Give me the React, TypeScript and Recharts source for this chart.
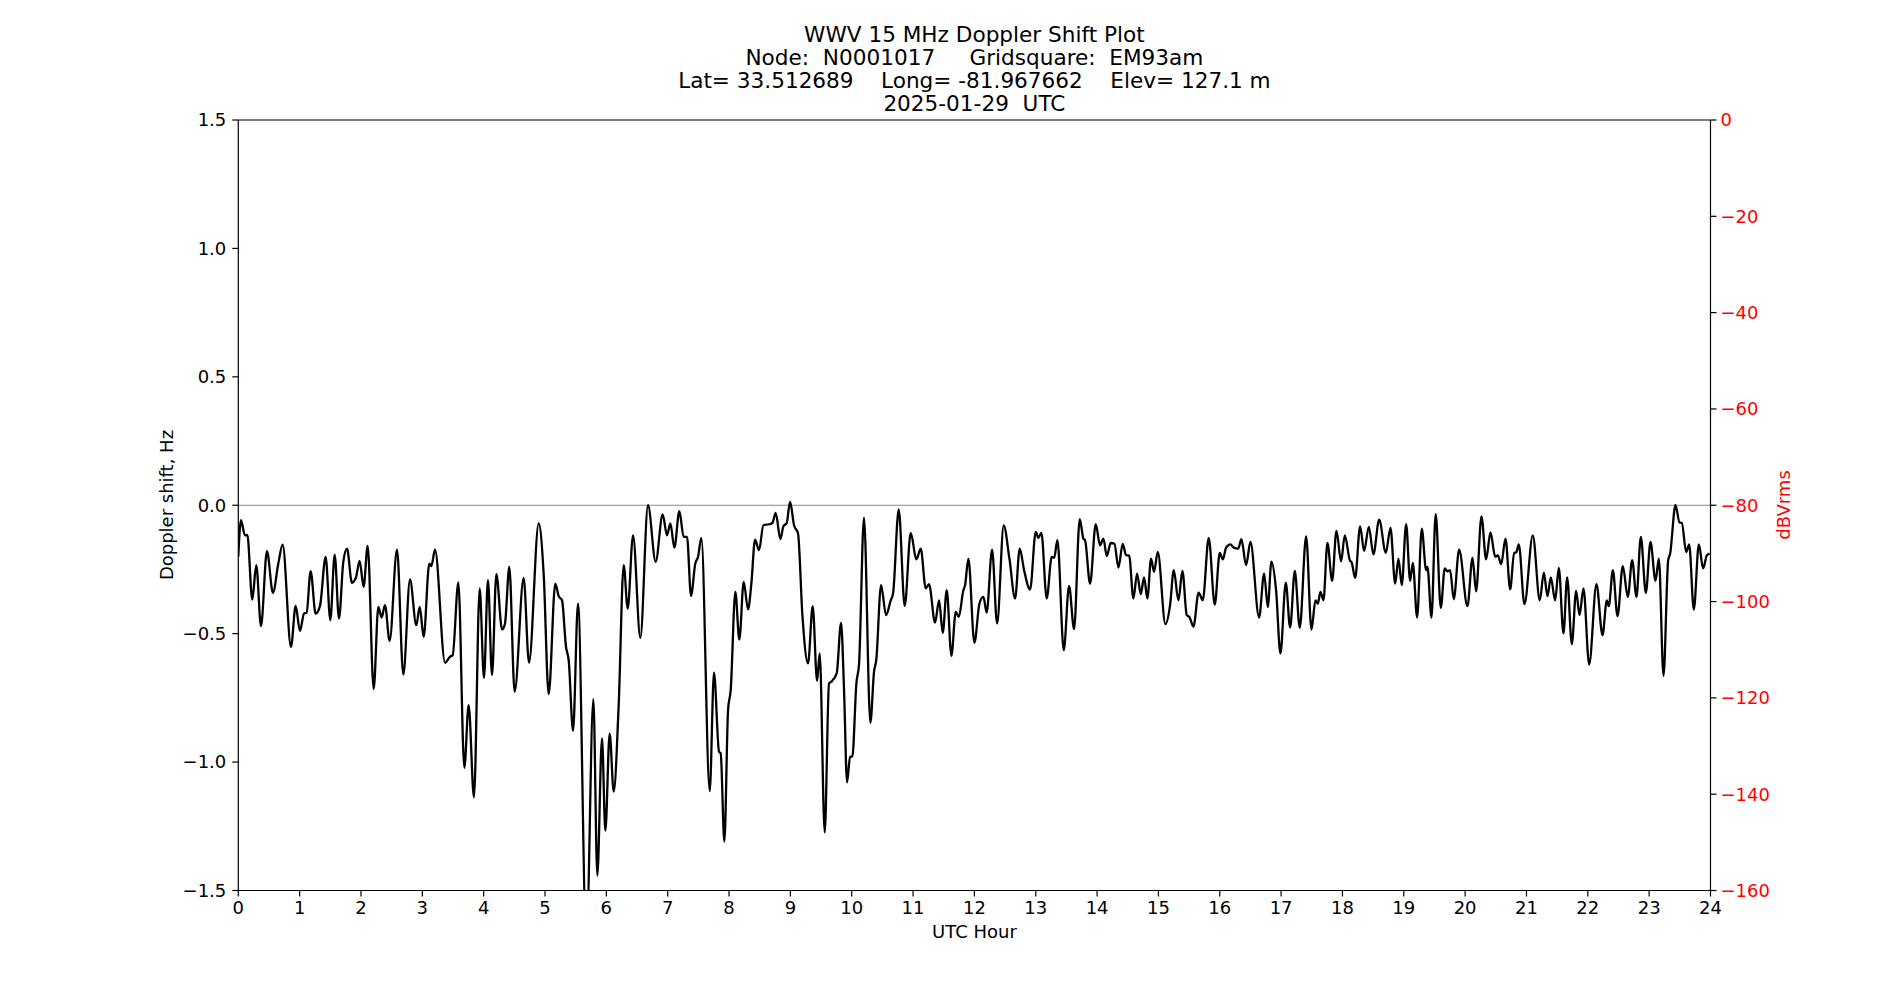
import React from 'react';
import { LineChart, Line, XAxis, YAxis, ReferenceLine } from 'recharts';

const hours: number[] = [
  0, 0.043, 0.109, 0.147, 0.228, 0.293, 0.37, 0.467, 0.565, 0.652, 0.723, 0.859, 0.935, 1.005, 1.071, 1.114,
  1.179, 1.261, 1.332, 1.424, 1.5, 1.571, 1.641, 1.712, 1.772, 1.853, 1.918, 1.978, 2.043, 2.109, 2.207, 2.283,
  2.337, 2.391, 2.467, 2.587, 2.69, 2.799, 2.902, 2.957, 3.022, 3.114, 3.147, 3.207, 3.37, 3.451, 3.495, 3.587,
  3.685, 3.755, 3.842, 3.935, 4.005, 4.07, 4.136, 4.207, 4.3, 4.348, 4.418, 4.505, 4.652, 4.739, 4.897, 4.978,
  5.06, 5.168, 5.223, 5.277, 5.342, 5.386, 5.457, 5.538, 5.675, 5.788, 5.853, 5.929, 5.984, 6.054, 6.12, 6.2,
  6.283, 6.348, 6.435, 6.554, 6.679, 6.804, 6.918, 6.989, 7.043, 7.109, 7.19, 7.26, 7.315, 7.38, 7.45, 7.495,
  7.549, 7.685, 7.755, 7.837, 7.864, 7.924, 7.984, 8.027, 8.103, 8.168, 8.239, 8.31, 8.364, 8.424, 8.489, 8.56,
  8.652, 8.707, 8.761, 8.837, 8.886, 8.94, 8.995, 9.06, 9.125, 9.196, 9.288, 9.364, 9.435, 9.478, 9.56, 9.63,
  9.668, 9.755, 9.826, 9.875, 9.924, 9.973, 10.01, 10.076, 10.12, 10.2, 10.304, 10.364, 10.4, 10.478, 10.56, 10.636,
  10.674, 10.766, 10.864, 10.962, 11.054, 11.125, 11.207, 11.26, 11.359, 11.424, 11.484, 11.549, 11.625, 11.696, 11.745, 11.82,
  11.848, 11.902, 12.0, 12.082, 12.147, 12.2, 12.288, 12.37, 12.478, 12.571, 12.663, 12.739, 12.81, 12.908, 13.0, 13.043,
  13.092, 13.179, 13.26, 13.3, 13.353, 13.457, 13.543, 13.625, 13.717, 13.777, 13.804, 13.886, 13.978, 14.049, 14.103, 14.158,
  14.223, 14.283, 14.348, 14.418, 14.473, 14.522, 14.592, 14.652, 14.712, 14.766, 14.82, 14.88, 14.929, 14.989, 15.114, 15.19,
  15.25, 15.326, 15.391, 15.462, 15.505, 15.572, 15.655, 15.723, 15.82, 15.918, 16.0, 16.05, 16.103, 16.174, 16.228, 16.3,
  16.353, 16.429, 16.5, 16.641, 16.723, 16.783, 16.842, 16.918, 16.989, 17.076, 17.147, 17.223, 17.304, 17.408, 17.495, 17.56,
  17.598, 17.641, 17.69, 17.755, 17.832, 17.902, 17.978, 18.038, 18.12, 18.152, 18.207, 18.288, 18.353, 18.43, 18.505, 18.598,
  18.707, 18.783, 18.859, 18.913, 18.967, 19.038, 19.103, 19.147, 19.217, 19.293, 19.364, 19.386, 19.451, 19.52, 19.603, 19.668,
  19.712, 19.755, 19.815, 19.902, 20.038, 20.12, 20.179, 20.266, 20.342, 20.413, 20.49, 20.533, 20.587, 20.658, 20.734, 20.799,
  20.832, 20.875, 20.967, 21.103, 21.217, 21.283, 21.342, 21.397, 21.467, 21.527, 21.603, 21.663, 21.739, 21.81, 21.864, 21.929,
  22.022, 22.141, 22.239, 22.31, 22.342, 22.408, 22.484, 22.57, 22.652, 22.723, 22.793, 22.864, 22.946, 23.022, 23.103, 23.158,
  23.234, 23.31, 23.342, 23.429, 23.495, 23.533, 23.603, 23.652, 23.728, 23.81, 23.88, 23.94, 23.984,
];

const doppler: number[] = [
  -0.2, -0.058, -0.117, -0.115, -0.367, -0.233, -0.471, -0.179, -0.341, -0.227, -0.153, -0.551, -0.392, -0.489, -0.422, -0.418,
  -0.257, -0.422, -0.392, -0.201, -0.447, -0.192, -0.441, -0.22, -0.169, -0.302, -0.281, -0.217, -0.318, -0.158, -0.716, -0.396,
  -0.437, -0.389, -0.528, -0.173, -0.659, -0.289, -0.467, -0.396, -0.512, -0.227, -0.237, -0.173, -0.613, -0.59, -0.584, -0.3,
  -1.022, -0.778, -1.137, -0.324, -0.672, -0.292, -0.661, -0.268, -0.484, -0.46, -0.24, -0.726, -0.283, -0.613, -0.071, -0.266,
  -0.735, -0.305, -0.354, -0.37, -0.551, -0.603, -0.878, -0.383, -1.7, -0.755, -1.442, -0.908, -1.267, -0.889, -1.115, -0.785,
  -0.233, -0.402, -0.117, -0.516, 0.0, -0.22, -0.036, -0.117, -0.071, -0.165, -0.023, -0.123, -0.123, -0.353, -0.227, -0.201,
  -0.127, -1.113, -0.652, -0.96, -0.966, -1.31, -0.798, -0.72, -0.337, -0.523, -0.298, -0.405, -0.305, -0.134, -0.175, -0.078,
  -0.074, -0.069, -0.03, -0.132, -0.082, -0.069, 0.013, -0.078, -0.11, -0.428, -0.616, -0.393, -0.684, -0.577, -1.274, -0.694,
  -0.687, -0.655, -0.458, -0.72, -1.079, -0.979, -0.979, -0.694, -0.616, -0.048, -0.847, -0.648, -0.603, -0.311, -0.428, -0.37,
  -0.344, -0.016, -0.392, -0.108, -0.211, -0.169, -0.324, -0.307, -0.457, -0.37, -0.497, -0.331, -0.586, -0.415, -0.435, -0.331,
  -0.311, -0.208, -0.536, -0.383, -0.357, -0.418, -0.173, -0.46, -0.078, -0.208, -0.363, -0.169, -0.253, -0.328, -0.104, -0.127,
  -0.108, -0.363, -0.201, -0.205, -0.136, -0.564, -0.314, -0.482, -0.054, -0.13, -0.136, -0.305, -0.074, -0.156, -0.13, -0.198,
  -0.147, -0.15, -0.243, -0.15, -0.195, -0.195, -0.363, -0.266, -0.346, -0.281, -0.363, -0.208, -0.259, -0.182, -0.463, -0.389,
  -0.253, -0.37, -0.256, -0.428, -0.435, -0.472, -0.34, -0.37, -0.127, -0.387, -0.186, -0.211, -0.165, -0.152, -0.165, -0.169,
  -0.132, -0.233, -0.143, -0.437, -0.266, -0.396, -0.22, -0.331, -0.577, -0.301, -0.476, -0.256, -0.477, -0.121, -0.484, -0.37,
  -0.383, -0.337, -0.37, -0.147, -0.294, -0.1, -0.218, -0.117, -0.214, -0.224, -0.283, -0.082, -0.178, -0.084, -0.191, -0.056,
  -0.185, -0.088, -0.305, -0.208, -0.311, -0.074, -0.294, -0.224, -0.437, -0.091, -0.253, -0.24, -0.437, -0.035, -0.399, -0.246,
  -0.257, -0.253, -0.366, -0.173, -0.393, -0.205, -0.335, -0.043, -0.211, -0.106, -0.201, -0.195, -0.23, -0.13, -0.327, -0.185,
  -0.184, -0.152, -0.385, -0.117, -0.37, -0.262, -0.354, -0.281, -0.37, -0.244, -0.499, -0.281, -0.541, -0.333, -0.428, -0.324,
  -0.62, -0.307, -0.506, -0.37, -0.393, -0.253, -0.432, -0.237, -0.357, -0.214, -0.357, -0.123, -0.341, -0.143, -0.294, -0.208,
  -0.664, -0.214, -0.188, 0.0, -0.067, -0.069, -0.182, -0.152, -0.406, -0.152, -0.246, -0.195, -0.188,
];

const xTicks: number[] = Array.from({ length: 25 }, (_, i) => i);
const leftTicks: number[] = [-1.5, -1.0, -0.5, 0.0, 0.5, 1.0, 1.5];
const rightTicks: number[] = [-160, -140, -120, -100, -80, -60, -40, -20, 0];

const titleLines: string[] = [
  'WWV 15 MHz Doppler Shift Plot',
  'Node:  N0001017     Gridsquare:  EM93am',
  'Lat= 33.512689    Long= -81.967662    Elev= 127.1 m',
  '2025-01-29  UTC',
];

const data = hours.map((h, i) => ({ h, d: doppler[i] }));

const FONT = '"DejaVu Sans", sans-serif';
const W = 1884;
const H = 984;
const TICK_FS = 18;

const fmtLeft = (v: number) => (v < 0 ? '\u2212' : '') + Math.abs(v).toFixed(1);
const fmtRight = (v: number) => (v < 0 ? '\u2212' + Math.abs(v) : String(v));

export default function App() {
  const plotLeft = 230.3;
  const plotRight = 1702.5;
  const cx = (plotLeft + plotRight) / 2;
  const baselines = [33.7, 56.8, 80.2, 103.4];
  return (
    <div style={{ position: 'relative', width: W, height: H, fontFamily: FONT }}>
      <LineChart
        width={W}
        height={H}
        data={data}
        margin={{ top: 112, right: 101.5, bottom: 61.5, left: 150.3 }}
        style={{ fontFamily: FONT }}
      >
        <XAxis
          dataKey="h"
          type="number"
          domain={[0, 24]}
          ticks={xTicks}
          interval={0}
          allowDataOverflow
          height={40}
          tickSize={6}
          tickMargin={5}
          axisLine={{ stroke: '#000', strokeWidth: 1.2 }}
          tickLine={{ stroke: '#000', strokeWidth: 1.2 }}
          tick={{ fill: '#000', fontSize: TICK_FS, fontFamily: FONT }}
        />
        <YAxis
          yAxisId="left"
          type="number"
          domain={[-1.5, 1.5]}
          ticks={leftTicks}
          interval={0}
          allowDataOverflow
          width={80}
          tickSize={6}
          tickMargin={6}
          tickFormatter={fmtLeft}
          axisLine={{ stroke: '#000', strokeWidth: 1.2 }}
          tickLine={{ stroke: '#000', strokeWidth: 1.2 }}
          tick={{ fill: '#000', fontSize: TICK_FS, fontFamily: FONT }}
        />
        <YAxis
          yAxisId="right"
          orientation="right"
          type="number"
          domain={[-160, 0]}
          ticks={rightTicks}
          interval={0}
          allowDataOverflow
          width={80}
          tickSize={6}
          tickMargin={4}
          tickFormatter={fmtRight}
          axisLine={{ stroke: '#000', strokeWidth: 1.2 }}
          tickLine={{ stroke: '#000', strokeWidth: 1.2 }}
          tick={{ fill: '#ff0000', fontSize: TICK_FS, fontFamily: FONT, textAnchor: 'start' }}
        />
        <ReferenceLine yAxisId="left" y={0} stroke="#8a8a8a" strokeWidth={1.2} />
        <ReferenceLine yAxisId="left" y={1.5} stroke="#000" strokeWidth={1.2} />
        <Line
          yAxisId="left"
          dataKey="d"
          type="monotone"
          stroke="#000"
          strokeWidth={2.3}
          dot={false}
          activeDot={false}
          isAnimationActive={false}
        />
      </LineChart>
      <svg
        width={W}
        height={H}
        style={{ position: 'absolute', left: 0, top: 0, pointerEvents: 'none' }}
      >
        {titleLines.map((t, i) => (
          <text
            key={i}
            x={cx}
            y={baselines[i]}
            textAnchor="middle"
            fontFamily={FONT}
            fontSize={21.6}
            fill="#000"
            style={{ whiteSpace: 'pre' }}
            xmlSpace="preserve"
          >
            {t}
          </text>
        ))}
        <text x={cx} y={930} textAnchor="middle" fontFamily={FONT} fontSize={18} fill="#000">
          UTC Hour
        </text>
        <text
          x={0}
          y={0}
          transform={`translate(165, 497) rotate(-90)`}
          textAnchor="middle"
          fontFamily={FONT}
          fontSize={18}
          fill="#000"
        >
          Doppler shift, Hz
        </text>
        <text
          x={0}
          y={0}
          transform={`translate(1782, 497) rotate(-90)`}
          textAnchor="middle"
          fontFamily={FONT}
          fontSize={18}
          fill="#ff0000"
        >
          dBVrms
        </text>
      </svg>
    </div>
  );
}
